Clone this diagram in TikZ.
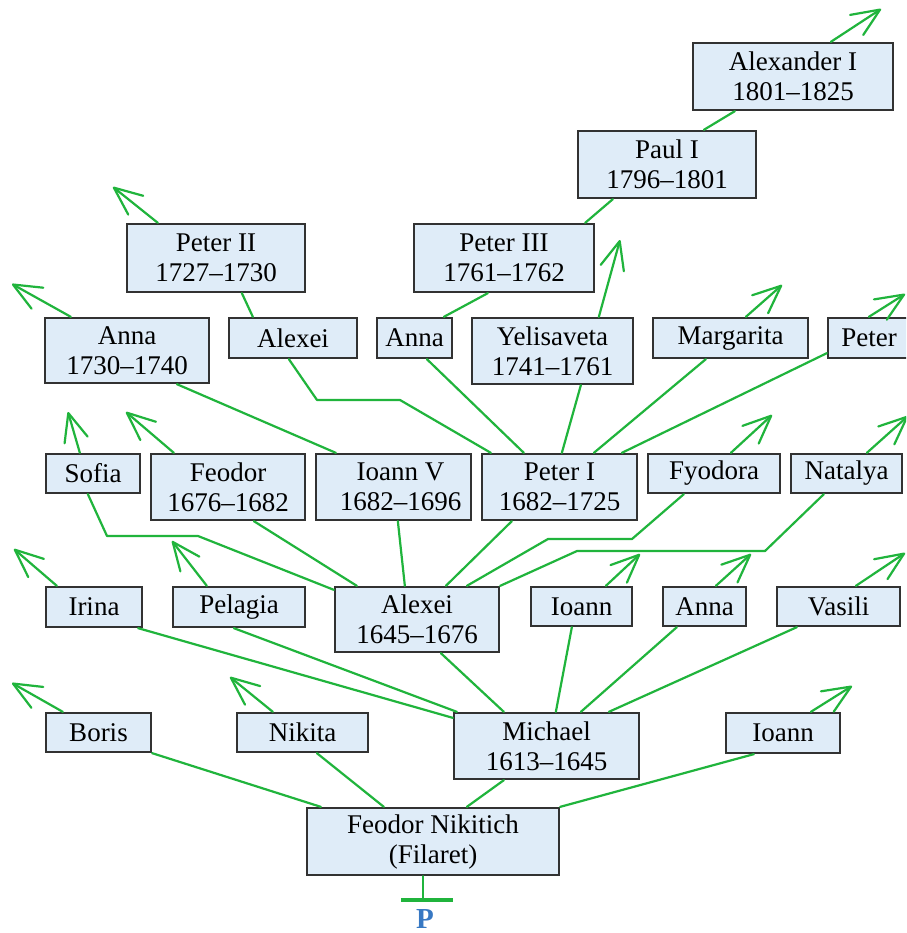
\documentclass[tikz,border=0pt]{standalone}
\usepackage{fontspec}
\setmainfont{Liberation Serif}
\usetikzlibrary{arrows.meta}
\definecolor{branch}{RGB}{32,180,60}
\definecolor{boxfill}{RGB}{223,236,248}
\definecolor{boxline}{RGB}{50,50,50}
\definecolor{rootblue}{RGB}{55,120,195}
\begin{document}
\begin{tikzpicture}[x=1pt,y=-1pt,
  box/.style={draw=boxline, fill=boxfill, line width=2.3pt, inner sep=0pt,
    align=center, font=\fontsize{27}{30}\selectfont},
  conn/.style={draw=branch, line width=2.2pt, line cap=round, line join=round},
  onward/.style={conn, -{Straight Barb[length=28pt,width=24pt,round]}},
]
\useasboundingbox (0,0) rectangle (906,933);
\fill[white] (0,0) rectangle (906,933);
\clip (0,0) rectangle (906,933);

% ---- boxes ----
\node[box, minimum width=200pt, minimum height=67pt] (alex1)   at (793,76.5)  {Alexander I\\1801--1825};
\node[box, minimum width=178pt, minimum height=67pt] (paul)    at (667,164.5) {Paul I\\1796--1801};
\node[box, minimum width=178pt, minimum height=68pt] (peter2)  at (216,258)   {Peter II\\1727--1730};
\node[box, minimum width=180pt, minimum height=68pt] (peter3)  at (504,258)   {Peter III\\1761--1762};

\node[box, minimum width=164pt, minimum height=65pt] (annaA)   at (127,350.5) {Anna\\1730--1740};
\node[box, minimum width=128pt, minimum height=40pt] (alexeiB) at (293,338)   {Alexei};
\node[box, minimum width=75pt,  minimum height=40pt] (annaB)   at (414.5,338) {Anna};
\node[box, minimum width=161pt, minimum height=66pt] (yelis)   at (552.5,351) {Yelisaveta\\1741--1761};
\node[box, minimum width=155pt, minimum height=40pt] (marg)    at (730.5,338) {Margarita};
\node[box, minimum width=82pt,  minimum height=40pt] (peterR)  at (869,338)   {Peter};

\node[box, minimum width=94pt,  minimum height=39pt] (sofia)   at (93,473.5)  {Sofia};
\node[box, minimum width=154pt, minimum height=66pt] (feodor)  at (228,487)   {Feodor\\1676--1682};
\node[box, minimum width=155pt, minimum height=66pt] (ioannV)  at (393.5,487) {\hspace*{14pt}Ioann V\\\hspace*{14pt}1682--1696};
\node[box, minimum width=155pt, minimum height=66pt] (peter1)  at (559.5,487) {Peter I\\1682--1725};
\node[box, minimum width=132pt, minimum height=39pt] (fyodora) at (714,473.5)  {Fyodora};
\node[box, minimum width=111pt, minimum height=39pt] (natalya) at (846.5,473.5){Natalya};

\node[box, minimum width=96pt,  minimum height=40pt] (irina)   at (94,607)    {Irina};
\node[box, minimum width=132pt, minimum height=40pt] (pelagia) at (239,607)   {Pelagia};
\node[box, minimum width=164pt, minimum height=65pt] (alexei)  at (417,619.5) {Alexei\\1645--1676};
\node[box, minimum width=101pt, minimum height=39pt] (ioannC)  at (581.5,606.5){Ioann};
\node[box, minimum width=83pt,  minimum height=39pt] (annaC)   at (704.5,606.5){Anna};
\node[box, minimum width=123pt, minimum height=39pt] (vasili)  at (838.5,606.5){Vasili};

\node[box, minimum width=105pt, minimum height=39pt] (boris)   at (98.5,732.5) {Boris};
\node[box, minimum width=131pt, minimum height=39pt] (nikita)  at (302.5,732.5){Nikita};
\node[box, minimum width=185pt, minimum height=66pt] (michael) at (546.5,746)  {Michael\\1613--1645};
\node[box, minimum width=114pt, minimum height=40pt] (ioannD)  at (783,733)    {Ioann};

\node[box, minimum width=252pt, minimum height=67pt] (fn)      at (433,841.5)  {Feodor Nikitich\\(Filaret)};

% ---- root mark ----
\coordinate (stem) at ([xshift=-10pt]fn.south);
\coordinate (base) at ([yshift=-24pt]stem);
\draw[conn] (stem) -- (base);
\draw[branch, line width=4pt] ([xshift=-22pt]base) -- ([xshift=30pt]base);
\node[font=\fontsize{29}{30}\selectfont\bfseries, text=rootblue, anchor=base] (root) at (425,928) {P};

% ---- descent lines ----
\draw[conn] (boris.south east) -- ([xshift=15pt]fn.north west);
\draw[conn] ([xshift=81pt]nikita.south west) -- ([xshift=78pt]fn.north west);
\draw[conn] ([xshift=51pt]michael.south west) -- ([xshift=161pt]fn.north west);
\draw[conn] ([xshift=29pt]ioannD.south west) -- (fn.north east);

\draw[conn] ([xshift=-5pt]irina.south east) -- ([yshift=-6pt]michael.north west);
\draw[conn] ([xshift=62pt]pelagia.south west) -- ([xshift=4pt]michael.north west);
\draw[conn] ([xshift=107pt]alexei.south west) -- ([xshift=51pt]michael.north west);
\draw[conn] ([xshift=42pt]ioannC.south west) -- ([xshift=103pt]michael.north west);
\draw[conn] ([xshift=15pt]annaC.south west) -- ([xshift=128pt]michael.north west);
\draw[conn] ([xshift=21pt]vasili.south west) -- ([xshift=156pt]michael.north west);

\draw[conn] ([xshift=43pt]sofia.south west) -- (107,536) -- (198,536) -- ([yshift=-4pt]alexei.north west);
\draw[conn] ([xshift=104pt]feodor.south west) -- ([xshift=23pt]alexei.north west);
\draw[conn] ([xshift=83pt]ioannV.south west) -- ([xshift=71pt]alexei.north west);
\draw[conn] ([xshift=31pt]peter1.south west) -- ([xshift=112pt]alexei.north west);
\draw[conn] ([xshift=133pt]alexei.north west) -- (548,539) -- (632,539) -- ([xshift=37pt]fyodora.south west);
\draw[conn] (alexei.north east) -- (577,551) -- (765,551) -- ([xshift=34pt]natalya.south west);

\draw[conn] ([xshift=133pt]annaA.south west) -- ([xshift=21pt]ioannV.north west);
\draw[conn] ([xshift=61pt]alexeiB.south west) -- (317,400) -- (400,400) -- ([xshift=10pt]peter1.north west);
\draw[conn] ([xshift=51pt]annaB.south west) -- ([xshift=43pt]peter1.north west);
\draw[conn] ([xshift=110pt]yelis.south west) -- ([xshift=81pt]peter1.north west);
\draw[conn] ([xshift=54pt]marg.south west) -- ([xshift=113pt]peter1.north west);
\draw[conn] ([yshift=6pt]peterR.south west) -- ([xshift=141pt]peter1.north west);

\draw[conn] ([xshift=116pt]peter2.south west) -- ([xshift=25pt]alexeiB.north west);
\draw[conn] ([xshift=75pt]peter3.south west) -- ([xshift=68pt]annaB.north west);
\draw[conn] ([xshift=-10pt]peter3.north east) -- ([xshift=36pt]paul.south west);
\draw[conn] ([xshift=127pt]paul.north west) -- ([xshift=43pt]alex1.south west);

% ---- lines continuing beyond the chart ----
\coordinate (tAlex1)   at (881,9);
\coordinate (tAnnaA)   at (12,284);
\coordinate (tPeter2)  at (113,187);
\coordinate (tYelis)   at (620,240);
\coordinate (tMarg)    at (782,285);
\coordinate (tPeterR)  at (905,294);
\coordinate (tFyodora) at (772,415);
\coordinate (tNatalya) at (908,416);
\coordinate (tSofia)   at (68,412);
\coordinate (tFeodor)  at (126,412);
\coordinate (tIrina)   at (14,549);
\coordinate (tPelagia) at (172,541);
\coordinate (tIoannC)  at (640,554);
\coordinate (tAnnaC)   at (751,554);
\coordinate (tVasili)  at (905,553);
\coordinate (tBoris)   at (12,683);
\coordinate (tNikita)  at (230,677);
\coordinate (tIoannD)  at (852,686);

\draw[onward] ([xshift=139pt]alex1.north west) -- (tAlex1);
\draw[onward] ([xshift=27pt]annaA.north west) -- (tAnnaA);
\draw[onward] ([xshift=32pt]peter2.north west) -- (tPeter2);
\draw[onward] ([xshift=128pt]yelis.north west) -- (tYelis);
\draw[onward] ([xshift=94pt]marg.north west) -- (tMarg);
\draw[onward] ([xshift=42pt]peterR.north west) -- (tPeterR);
\draw[onward] ([xshift=84pt]fyodora.north west) -- (tFyodora);
\draw[onward] ([xshift=77pt]natalya.north west) -- (tNatalya);
\draw[onward] ([xshift=35pt]sofia.north west) -- (tSofia);
\draw[onward] ([xshift=24pt]feodor.north west) -- (tFeodor);
\draw[onward] ([xshift=12pt]irina.north west) -- (tIrina);
\draw[onward] ([xshift=35pt]pelagia.north west) -- (tPelagia);
\draw[onward] ([xshift=76pt]ioannC.north west) -- (tIoannC);
\draw[onward] ([xshift=54pt]annaC.north west) -- (tAnnaC);
\draw[onward] ([xshift=80pt]vasili.north west) -- (tVasili);
\draw[onward] ([xshift=18pt]boris.north west) -- (tBoris);
\draw[onward] ([xshift=37pt]nikita.north west) -- (tNikita);
\draw[onward] ([xshift=86pt]ioannD.north west) -- (tIoannD);
\end{tikzpicture}
\end{document}
